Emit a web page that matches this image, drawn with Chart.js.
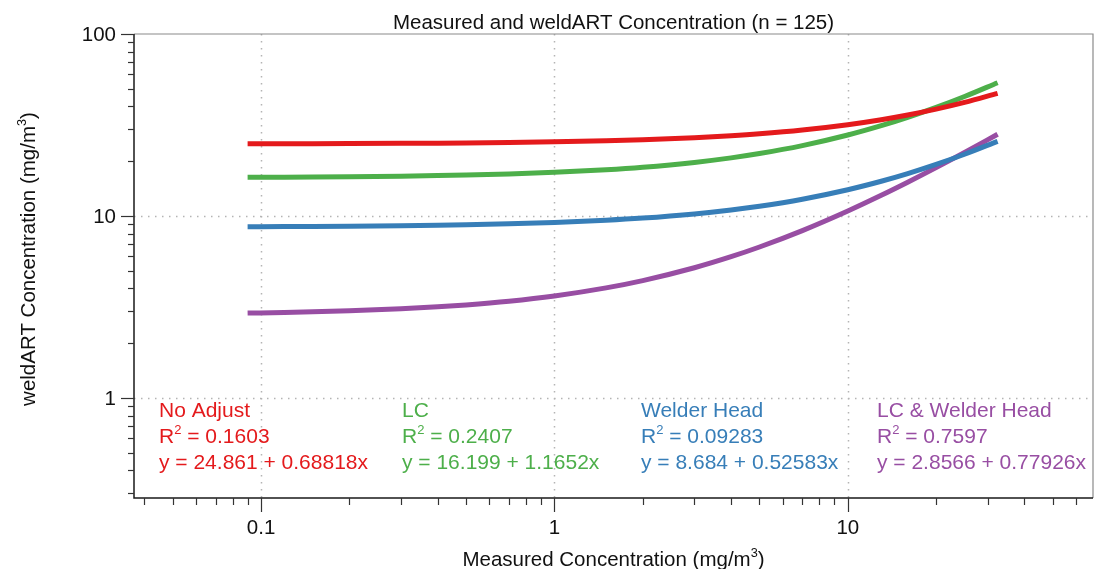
<!DOCTYPE html>
<html>
<head>
<meta charset="utf-8">
<title>Measured and weldART Concentration</title>
<script src="https://cdn.jsdelivr.net/npm/chart.js@4.4.1/dist/chart.umd.min.js"></script>
<style>
  html, body { margin: 0; padding: 0; background: #fff; }
  #wrap { width: 1097px; height: 569px; position: relative; }
</style>
</head>
<body>
<div id="wrap"><canvas id="grafikWeldART"></canvas></div>
<script>
// Regression fits: y = intercept + slope * x
const seriesNames = ['No Adjust', 'LC', 'Welder Head', 'LC & Welder Head'];
const intercepts = [24.861, 16.199, 8.684, 2.8566];
const slopes = [0.68818, 1.1652, 0.52583, 0.77926];
const rSquared = ['0.1603', '0.2407', '0.09283', '0.7597'];
const seriesColors = ['#e41a1c', '#4daf4a', '#377eb8', '#984ea3'];

// measured concentration values where each fit line is evaluated
const measuredX = [0.09, 0.12, 0.15, 0.2, 0.3, 0.4, 0.5, 0.7, 1, 1.5, 2, 3, 4, 5, 7, 10, 13, 16, 20, 25, 32.4];

// axis ticks
const xMajorTicks = [0.1, 1, 10];
const xMinorTicks = [0.04, 0.05, 0.06, 0.07, 0.08, 0.09, 0.2, 0.3, 0.4, 0.5, 0.6, 0.7, 0.8, 0.9,
  2, 3, 4, 5, 6, 7, 8, 9, 20, 30, 40, 50, 60];
const yMajorTicks = [1, 10, 100];
const yMinorTicks = [0.3, 0.4, 0.5, 0.6, 0.7, 0.8, 0.9, 2, 3, 4, 5, 6, 7, 8, 9,
  20, 30, 40, 50, 60, 70, 80, 90];

const FONT = '"Liberation Sans", Arial, Helvetica, sans-serif';

// text with optional superscript parts: [[text, isSup], ...]
function richWidth(ctx, parts, size) {
  let w = 0;
  parts.forEach(p => {
    ctx.font = (p[1] ? size * 0.62 : size) + 'px ' + FONT;
    w += ctx.measureText(p[0]).width;
  });
  return w;
}
function drawRich(ctx, parts, x, y, size, align) {
  let cx = x;
  if (align === 'center') cx = x - richWidth(ctx, parts, size) / 2;
  ctx.textAlign = 'left';
  ctx.textBaseline = 'alphabetic';
  parts.forEach(p => {
    ctx.font = (p[1] ? size * 0.62 : size) + 'px ' + FONT;
    ctx.fillText(p[0], cx, p[1] ? y - size * 0.42 : y);
    cx += ctx.measureText(p[0]).width;
  });
}

const gridPlugin = {
  id: 'logGrid',
  beforeDatasetsDraw(chart) {
    const {ctx, chartArea: a, scales: {x, y}} = chart;
    ctx.save();
    ctx.strokeStyle = '#b4b4b4';
    ctx.lineWidth = 1.5;
    ctx.setLineDash([1.5, 5.5]);
    xMajorTicks.forEach(v => {
      const px = Math.round(x.getPixelForValue(v)) + 0.5;
      ctx.beginPath(); ctx.moveTo(px, a.top); ctx.lineTo(px, a.bottom); ctx.stroke();
    });
    yMajorTicks.slice(0, 2).forEach(v => {
      const py = Math.round(y.getPixelForValue(v)) + 0.5;
      ctx.beginPath(); ctx.moveTo(a.left, py); ctx.lineTo(a.right, py); ctx.stroke();
    });
    ctx.restore();
  },
  afterDraw(chart) {
    const {ctx, chartArea: a, scales: {x, y}} = chart;
    ctx.save();
    // frame
    ctx.lineWidth = 1.2;
    ctx.strokeStyle = '#8a8a8a';
    ctx.beginPath();
    ctx.moveTo(a.left, a.top); ctx.lineTo(a.right, a.top); ctx.lineTo(a.right, a.bottom);
    ctx.stroke();
    ctx.lineWidth = 1.5;
    ctx.strokeStyle = '#1a1a1a';
    ctx.beginPath();
    ctx.moveTo(a.left, a.top); ctx.lineTo(a.left, a.bottom); ctx.lineTo(a.right, a.bottom);
    ctx.stroke();

    // ticks
    ctx.lineWidth = 1.2;
    ctx.strokeStyle = '#333';
    const tickX = (v, len) => {
      const px = Math.round(x.getPixelForValue(v)) + 0.5;
      ctx.beginPath(); ctx.moveTo(px, a.bottom); ctx.lineTo(px, a.bottom + len); ctx.stroke();
    };
    const tickY = (v, len) => {
      const py = Math.round(y.getPixelForValue(v)) + 0.5;
      ctx.beginPath(); ctx.moveTo(a.left, py); ctx.lineTo(a.left - len, py); ctx.stroke();
    };
    xMinorTicks.forEach(v => tickX(v, 7));
    xMajorTicks.forEach(v => tickX(v, 14));
    yMinorTicks.forEach(v => tickY(v, 6));
    yMajorTicks.forEach(v => tickY(v, 13));

    // tick labels
    ctx.fillStyle = '#111';
    ctx.font = '20.5px ' + FONT;
    ctx.textAlign = 'center';
    ctx.textBaseline = 'middle';
    xMajorTicks.forEach(v => ctx.fillText(String(v), x.getPixelForValue(v), 528));
    ctx.textAlign = 'right';
    yMajorTicks.forEach(v => ctx.fillText(String(v), 116, y.getPixelForValue(v) + 1));

    // titles
    ctx.fillStyle = '#111';
    const midX = (a.left + a.right) / 2;
    drawRich(ctx, [['Measured and weldART Concentration (n = 125)', false]], midX, 29, 20.5, 'center');
    drawRich(ctx, [['Measured Concentration (mg/m', false], ['3', true], [')', false]], midX, 566, 20.5, 'center');
    ctx.save();
    ctx.translate(35, (a.top + a.bottom) / 2 - 7);
    ctx.rotate(-Math.PI / 2);
    drawRich(ctx, [['weldART Concentration (mg/m', false], ['3', true], [')', false]], 0, 0, 20.5, 'center');
    ctx.restore();

    // fit annotations
    const labelX = [159, 402, 641, 877];
    seriesNames.forEach((name, i) => {
      ctx.fillStyle = seriesColors[i];
      drawRich(ctx, [[name, false]], labelX[i], 417, 21, 'left');
      drawRich(ctx, [['R', false], ['2', true], [' = ' + rSquared[i], false]], labelX[i], 443, 21, 'left');
      drawRich(ctx, [['y = ' + intercepts[i] + ' + ' + slopes[i] + 'x', false]], labelX[i], 469, 21, 'left');
    });
    ctx.restore();
  }
};

const ctxWeld = document.getElementById('grafikWeldART');
let grafikWeldART = new Chart(ctxWeld, {
  type: 'line',
  data: {
    datasets: seriesNames.map((name, i) => ({
      label: name,
      data: measuredX.map(v => ({x: v, y: intercepts[i] + slopes[i] * v})),
      borderColor: seriesColors[i],
      borderWidth: 5,
      borderCapStyle: 'butt',
      pointRadius: 0,
      cubicInterpolationMode: 'monotone',
      fill: false
    }))
  },
  options: {
    responsive: true,
    maintainAspectRatio: false,
    animation: false,
    layout: { padding: { left: 0, right: 4, top: 34, bottom: 0 } },
    plugins: {
      legend: { display: false },
      title: { display: false },
      tooltip: { enabled: false }
    },
    scales: {
      x: {
        type: 'logarithmic',
        min: 0.0369,
        max: 68.5,
        grid: { display: false },
        border: { display: false },
        ticks: { display: false },
        afterFit(scale) { scale.height = 71; }
      },
      y: {
        type: 'logarithmic',
        min: 0.282,
        max: 100,
        grid: { display: false },
        border: { display: false },
        ticks: { display: false },
        afterFit(scale) { scale.width = 134; }
      }
    }
  },
  plugins: [gridPlugin]
});
</script>
</body>
</html>
